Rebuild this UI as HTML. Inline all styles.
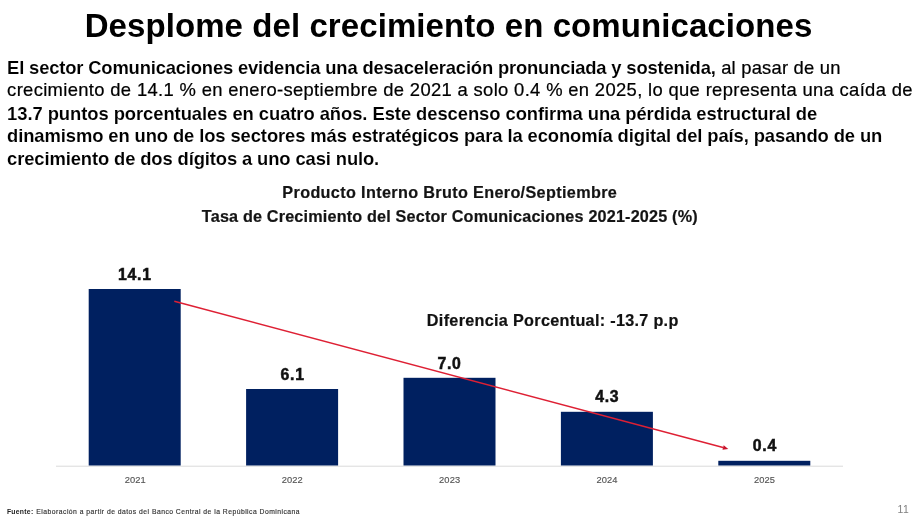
<!DOCTYPE html>
<html lang="es">
<head>
<meta charset="utf-8">
<title>Desplome del crecimiento en comunicaciones</title>
<style>
html,body{margin:0;padding:0;background:#fff;}
body{width:923px;height:519px;position:relative;overflow:hidden;font-family:"Liberation Sans",sans-serif;}
.para{margin:0;}
.ln{display:block;position:absolute;white-space:nowrap;margin:0;padding:0;line-height:1;}
svg{position:absolute;left:0;top:0;}
</style>
</head>
<body>
<svg width="923" height="519" viewBox="0 0 923 519">
<line x1="56" y1="466.2" x2="843" y2="466.2" stroke="#dadada" stroke-width="1"/>
<rect x="88.7" y="289.0" width="92.0" height="176.5" fill="#002060"/>
<rect x="246.1" y="389.0" width="92.0" height="76.5" fill="#002060"/>
<rect x="403.5" y="377.8" width="92.0" height="87.7" fill="#002060"/>
<rect x="560.9" y="411.8" width="92.0" height="53.7" fill="#002060"/>
<rect x="718.3" y="460.8" width="92.0" height="4.7" fill="#002060"/>
<line x1="174.3" y1="301.2" x2="723.1" y2="447.5" stroke="#de2034" stroke-width="1.45"/>
<polygon points="728.3,448.9 722.5,449.8 723.7,445.2" fill="#c8142c"/>
</svg>
<h1 class="ln" id="t" style="left:84.70px;top:9.07px;font-size:33.00px;font-weight:700;color:#000;letter-spacing:0.0778px">Desplome del crecimiento en comunicaciones</h1>
<p class="para">
<span class="ln" id="p1a" style="left:7.10px;top:58.92px;font-size:18.40px;font-weight:700;color:#000;letter-spacing:-0.1667px;-webkit-text-stroke:0.10px #fff">El sector Comunicaciones evidencia una desaceleración pronunciada y sostenida,</span>
<span class="ln" id="p1b" style="left:721.15px;top:58.92px;font-size:18.40px;font-weight:400;color:#000;letter-spacing:0.2095px;-webkit-text-stroke:0.22px #000">al pasar de un</span>
<span class="ln" id="p2" style="left:7.10px;top:81.42px;font-size:18.40px;font-weight:400;color:#000;letter-spacing:0.3397px;-webkit-text-stroke:0.22px #000">crecimiento de 14.1 % en enero-septiembre de 2021 a solo 0.4 % en 2025, lo que representa una caída de</span>
<span class="ln" id="p3" style="left:7.10px;top:105.12px;font-size:18.40px;font-weight:700;color:#000;letter-spacing:-0.0619px;-webkit-text-stroke:0.10px #fff">13.7 puntos porcentuales en cuatro años. Este descenso confirma una pérdida estructural de</span>
<span class="ln" id="p4" style="left:7.10px;top:126.62px;font-size:18.40px;font-weight:700;color:#000;letter-spacing:-0.1016px;-webkit-text-stroke:0.10px #fff">dinamismo en uno de los sectores más estratégicos para la economía digital del país, pasando de un</span>
<span class="ln" id="p5" style="left:7.10px;top:150.42px;font-size:18.40px;font-weight:700;color:#000;letter-spacing:-0.1178px;-webkit-text-stroke:0.10px #fff">crecimiento de dos dígitos a uno casi nulo.</span>
</p>
<div class="ln" id="c1" style="left:282.35px;top:184.29px;font-size:16.20px;font-weight:700;color:#141414;letter-spacing:0.3522px;-webkit-text-stroke:0.20px #141414">Producto Interno Bruto Enero/Septiembre</div>
<div class="ln" id="c2" style="left:201.85px;top:208.29px;font-size:16.20px;font-weight:700;color:#141414;letter-spacing:0.1767px;-webkit-text-stroke:0.20px #141414">Tasa de Crecimiento del Sector Comunicaciones 2021-2025 (%)</div>
<div class="ln" id="d" style="left:426.85px;top:312.29px;font-size:16.20px;font-weight:700;color:#111;letter-spacing:0.3060px;-webkit-text-stroke:0.20px #111">Diferencia Porcentual: -13.7 p.p</div>
<div class="ln" id="v1" style="left:118.00px;top:267.23px;font-size:15.80px;font-weight:700;color:#111;letter-spacing:0.7500px;-webkit-text-stroke:0.50px #111">14.1</div>
<div class="ln" id="v2" style="left:280.48px;top:366.73px;font-size:15.80px;font-weight:700;color:#111;letter-spacing:0.7500px;-webkit-text-stroke:0.50px #111">6.1</div>
<div class="ln" id="v3" style="left:437.43px;top:356.33px;font-size:15.80px;font-weight:700;color:#111;letter-spacing:0.7500px;-webkit-text-stroke:0.50px #111">7.0</div>
<div class="ln" id="v4" style="left:595.20px;top:389.03px;font-size:15.80px;font-weight:700;color:#111;letter-spacing:0.7500px;-webkit-text-stroke:0.50px #111">4.3</div>
<div class="ln" id="v5" style="left:752.73px;top:437.73px;font-size:15.80px;font-weight:700;color:#111;letter-spacing:0.7500px;-webkit-text-stroke:0.50px #111">0.4</div>
<div class="ln" id="y1" style="left:124.65px;top:476.33px;font-size:9.30px;font-weight:400;color:#555;letter-spacing:0.1000px;-webkit-text-stroke:0.15px #555">2021</div>
<div class="ln" id="y2" style="left:281.80px;top:476.33px;font-size:9.30px;font-weight:400;color:#555;letter-spacing:0.1000px;-webkit-text-stroke:0.15px #555">2022</div>
<div class="ln" id="y3" style="left:439.10px;top:476.33px;font-size:9.30px;font-weight:400;color:#555;letter-spacing:0.1000px;-webkit-text-stroke:0.15px #555">2023</div>
<div class="ln" id="y4" style="left:596.50px;top:476.33px;font-size:9.30px;font-weight:400;color:#555;letter-spacing:0.1000px;-webkit-text-stroke:0.15px #555">2024</div>
<div class="ln" id="y5" style="left:754.00px;top:476.33px;font-size:9.30px;font-weight:400;color:#555;letter-spacing:0.1000px;-webkit-text-stroke:0.15px #555">2025</div>
<div class="ln" id="f1" style="left:6.95px;top:508.94px;font-size:6.80px;font-weight:700;color:#222;letter-spacing:0.2787px">Fuente:</div>
<div class="ln" id="f2" style="left:36.35px;top:508.94px;font-size:6.80px;font-weight:400;color:#333;letter-spacing:0.4648px;-webkit-text-stroke:0.15px #333">Elaboración a partir de datos del Banco Central de la República Dominicana</div>
<div class="ln" id="n" style="left:897.53px;top:504.80px;font-size:10.40px;font-weight:400;color:#7f7f7f;letter-spacing:0.5000px">11</div>
</body>
</html>
